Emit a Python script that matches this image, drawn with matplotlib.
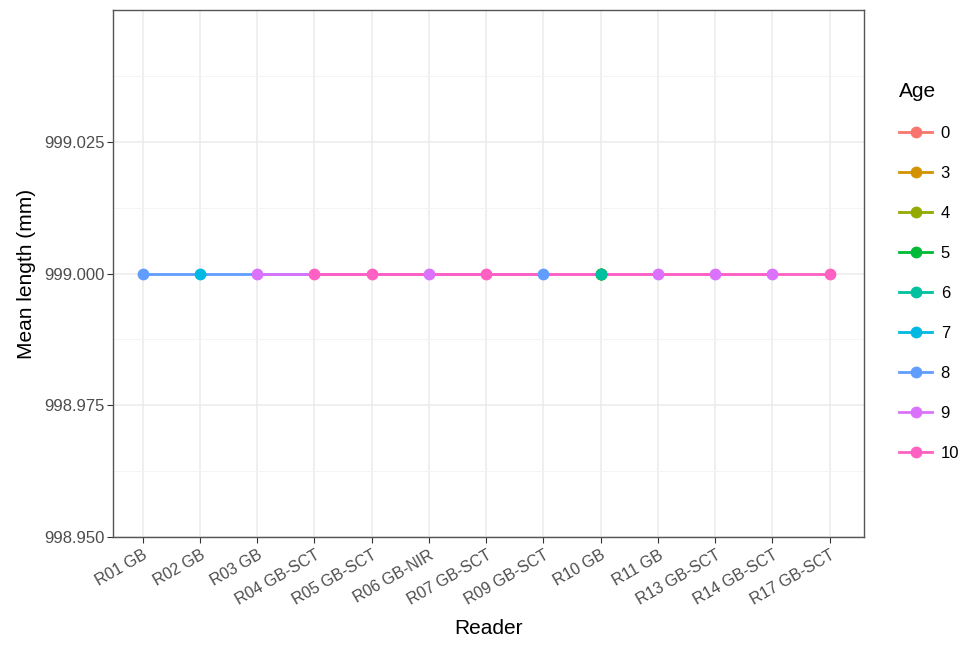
import matplotlib
matplotlib.use('Agg')
import matplotlib.pyplot as plt
from matplotlib.lines import Line2D

plt.rcParams['font.family'] = ['Liberation Sans', 'DejaVu Sans']

# readers on the x axis
readers = ['R01 GB', 'R02 GB', 'R03 GB', 'R04 GB-SCT', 'R05 GB-SCT', 'R06 GB-NIR',
           'R07 GB-SCT', 'R09 GB-SCT', 'R10 GB', 'R11 GB', 'R13 GB-SCT',
           'R14 GB-SCT', 'R17 GB-SCT']

ages = ['0', '3', '4', '5', '6', '7', '8', '9', '10']
age_colors = ['#F8766D', '#D39200', '#93AA00', '#00BA38', '#00C19F',
              '#00B9E3', '#619CFF', '#DB72FB', '#FF61C3']

# which readers recorded each age (mean length is the same everywhere)
age_readers = {
    '0': ['R10 GB'],
    '3': ['R10 GB'],
    '4': ['R10 GB'],
    '5': ['R10 GB'],
    '6': ['R10 GB'],
    '7': ['R02 GB'],
    '8': ['R01 GB', 'R09 GB-SCT'],
    '9': ['R03 GB', 'R06 GB-NIR', 'R11 GB', 'R13 GB-SCT', 'R14 GB-SCT'],
    '10': ['R04 GB-SCT', 'R05 GB-SCT', 'R07 GB-SCT', 'R17 GB-SCT'],
}
mean_length = 999.0

fig = plt.figure(figsize=(9.63, 6.5), dpi=100)
ax = fig.add_axes([0.1173, 0.1738, 0.7799, 0.8108])

xpos = {r: i for i, r in enumerate(readers)}

# lines first (all ages), then points, like ggplot layers
for age, col in zip(ages, age_colors):
    xs = sorted(xpos[r] for r in age_readers[age])
    ax.plot(xs, [mean_length] * len(xs), color=col, lw=2, zorder=2)
for age, col in zip(ages, age_colors):
    xs = sorted(xpos[r] for r in age_readers[age])
    ax.plot(xs, [mean_length] * len(xs), 'o', color=col, ms=7.5, zorder=3)

ax.set_xlim(-0.52, len(readers) - 1 + 0.6)
ax.set_ylim(998.95, 999.05)
ax.set_xticks(range(len(readers)))
ax.set_xticklabels(readers, rotation=30, ha='right', rotation_mode='anchor')
yt = [998.95, 998.975, 999.0, 999.025]
ax.set_yticks(yt)
ax.set_yticklabels(['%.3f' % v for v in yt])
ax.set_yticks([998.9625, 998.9875, 999.0125, 999.0375], minor=True)

ax.grid(True, which='major', color='#EBEBEB', lw=1.1, zorder=0)
ax.grid(True, which='minor', axis='y', color='#F3F3F3', lw=0.6, zorder=0)
ax.set_axisbelow(True)
for s in ax.spines.values():
    s.set_color('#555555')
    s.set_linewidth(1.0)
ax.tick_params(axis='both', which='major', colors='#333333', labelcolor='#4D4D4D',
               length=4)
ax.tick_params(axis='y', which='major', labelsize=12, pad=2)
ax.tick_params(axis='x', which='major', labelsize=11.5)
ax.tick_params(axis='y', which='minor', length=0)

ax.set_xlabel('Reader', fontsize=15, labelpad=8)
ax.set_ylabel('Mean length (mm)', fontsize=15, labelpad=6)

handles = [Line2D([0], [0], color=c, lw=2, marker='o', ms=7.5) for c in age_colors]
leg = fig.legend(handles, ages, title='Age', loc='upper left',
                 bbox_to_anchor=(0.918, 0.897), frameon=False, fontsize=12,
                 title_fontsize=15, labelspacing=1.5, handlelength=2.0,
                 handletextpad=0.5, alignment='left')

fig.savefig('out.png', dpi=100)
